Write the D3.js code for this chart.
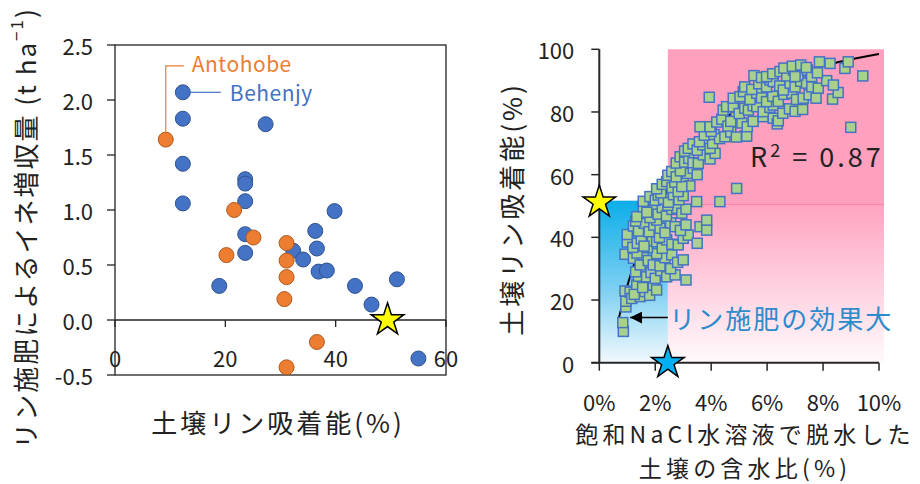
<!DOCTYPE html>
<html>
<head>
<meta charset="utf-8">
<script src="https://cdn.jsdelivr.net/npm/d3@7"></script>
<style>
  body { margin: 0; background: #fff; }
  svg { display: block; }
  text { font-family: "Noto Sans CJK JP", "Noto Sans", sans-serif; fill: #222; }
</style>
</head>
<body>
<svg id="chart" width="920" height="484"></svg>
<script>
// ---- Left panel: rice yield gain vs. soil P sorption ----
const behenjy = [
  [12.3, 2.07], [12.3, 1.83], [27.3, 1.78], [12.3, 1.42], [12.3, 1.06],
  [23.6, 1.28], [23.6, 1.24], [23.6, 1.08], [39.8, 0.99], [36.3, 0.81],
  [23.6, 0.78], [23.6, 0.61], [32.3, 0.63], [34.1, 0.55], [36.6, 0.65],
  [36.9, 0.44], [38.4, 0.45], [18.9, 0.31], [43.5, 0.31], [51.1, 0.37],
  [46.5, 0.14], [55.0, -0.35]
];
const antohobe = [
  [9.2, 1.64], [21.6, 1.00], [25.1, 0.75], [31.1, 0.70], [20.2, 0.59],
  [31.1, 0.54], [31.1, 0.39], [30.7, 0.19], [36.6, -0.20], [31.1, -0.43]
];
const leftStar = [[49.4, 0]];
const leftXTicks = [0, 20, 40, 60];
const leftYTicks = [-0.5, 0, 0.5, 1.0, 1.5, 2.0, 2.5];

// ---- Right panel: P sorption vs. water content after NaCl dehydration ----
const squares = [
  [0.86, 10.0], [0.84, 12.8], [0.95, 17.8], [0.95, 19.6],
  [0.92, 22.9], [1.10, 22.5], [1.16, 20.5], [1.34, 24.8], [1.46, 21.1], [1.63, 22.7],
  [1.80, 21.5], [1.93, 24.8], [2.05, 23.2], [1.25, 21.8], [1.55, 24.0],
  [1.40, 27.6], [1.55, 29.5], [1.69, 27.4], [1.85, 28.8], [2.00, 26.9], [2.20, 29.4],
  [2.41, 27.4], [2.71, 28.0], [3.10, 26.4], [1.30, 29.0], [2.55, 30.0],
  [0.92, 34.6], [1.22, 33.3], [1.46, 31.2], [1.57, 34.4], [1.75, 32.6], [1.93, 31.2],
  [2.17, 30.9], [2.35, 33.5], [2.59, 34.4], [2.80, 32.0], [3.00, 32.8], [1.35, 35.0], [2.05, 34.8],
  [1.00, 38.5], [1.20, 36.8], [1.36, 38.1], [1.50, 39.5], [1.72, 36.7], [1.90, 38.9],
  [2.05, 38.6], [2.25, 36.5], [2.41, 39.2], [2.60, 37.8], [2.82, 37.6], [3.00, 39.7],
  [3.18, 40.7], [3.50, 38.1], [1.60, 37.2], [2.15, 40.0],
  [1.00, 40.9], [1.22, 43.6], [1.40, 42.0], [1.60, 44.5], [1.78, 41.8], [1.95, 43.9],
  [2.17, 42.9], [2.35, 41.5], [2.55, 44.6], [2.71, 43.4], [2.90, 42.2], [3.10, 44.0],
  [3.60, 43.4], [3.84, 42.3], [3.84, 45.5], [1.30, 45.2], [2.05, 45.5],
  [1.34, 46.6], [1.57, 49.8], [1.81, 46.3], [1.95, 48.6], [2.10, 47.4], [2.25, 49.5],
  [2.40, 46.8], [2.60, 48.9], [2.77, 49.3], [2.95, 47.7], [3.10, 49.0], [1.70, 48.0], [2.45, 50.2],
  [1.57, 51.5], [1.81, 53.0], [2.00, 51.8], [2.11, 53.5], [2.30, 52.2], [2.47, 51.2],
  [2.65, 53.6], [2.85, 52.0], [3.00, 53.3], [3.48, 51.4], [4.31, 51.4], [2.20, 54.2],
  [2.05, 55.5], [2.25, 56.9], [2.41, 57.8], [2.60, 55.9], [2.82, 54.6], [3.00, 58.8],
  [3.24, 56.4], [4.91, 55.6], [2.70, 57.6], [2.95, 56.2],
  [2.45, 59.8], [2.59, 61.0], [2.75, 59.3], [3.00, 62.5], [3.15, 60.4], [3.36, 62.0],
  [3.50, 60.0], [2.90, 61.2],
  [2.75, 63.7], [2.89, 65.7], [3.05, 64.0], [3.20, 65.2], [3.35, 63.8], [3.54, 63.6],
  [3.72, 66.3], [3.96, 65.0], [4.14, 66.8],
  [3.05, 67.5], [3.18, 68.4], [3.35, 69.8], [3.50, 67.8], [3.70, 69.5], [3.90, 71.1],
  [3.96, 68.4], [4.05, 70.0], [3.58, 70.5],
  [3.75, 72.6], [4.10, 72.8], [4.30, 71.5], [4.49, 72.1], [4.70, 73.6], [5.21, 72.3],
  [5.27, 72.3], [4.00, 73.8], [4.90, 72.0],
  [3.60, 75.3], [3.96, 75.3], [4.20, 76.8], [4.38, 77.7], [4.60, 75.5], [4.89, 78.3],
  [5.10, 76.5], [5.29, 75.3], [5.50, 77.0], [5.86, 78.5], [6.22, 78.0], [6.36, 76.2],
  [6.40, 77.2], [8.99, 75.1], [4.70, 77.0],
  [4.43, 80.6], [4.55, 81.7], [4.79, 81.7], [5.00, 79.5], [5.20, 81.2], [5.33, 80.6],
  [5.50, 82.0], [5.63, 81.7], [5.86, 80.1], [6.10, 81.5], [6.22, 82.2], [6.56, 79.6],
  [6.80, 81.0], [7.00, 80.2], [7.27, 80.8],
  [3.93, 84.7], [4.79, 84.4], [5.03, 84.9], [5.15, 86.5], [5.39, 84.0], [5.63, 86.0],
  [5.80, 84.5], [5.98, 83.3], [6.20, 85.0], [6.40, 83.4], [6.60, 85.6], [6.88, 86.0],
  [7.05, 84.0], [7.29, 84.4], [7.50, 85.5], [7.75, 84.4], [8.34, 84.1], [8.54, 86.2],
  [5.20, 88.0], [5.45, 87.2], [5.70, 89.0], [5.98, 88.0], [6.10, 90.2], [6.22, 89.7],
  [6.45, 88.3], [6.58, 87.0], [6.82, 89.2], [7.00, 88.0], [7.20, 89.8], [7.41, 89.2],
  [7.60, 88.0], [7.83, 87.6], [8.13, 90.0], [8.37, 88.6],
  [5.53, 91.6], [5.80, 91.0], [5.98, 91.3], [6.20, 92.2], [6.46, 92.9], [6.70, 91.5],
  [6.94, 93.4], [7.10, 91.8], [7.44, 93.4], [7.59, 91.3], [7.80, 92.5], [8.78, 93.9],
  [9.42, 91.5], [7.00, 91.3],
  [6.60, 94.0], [6.90, 94.6], [7.20, 95.0], [7.40, 94.2], [7.87, 96.0], [8.25, 95.5], [8.90, 96.0]
];
const trendLine = [
  [0.68, 13.6], [0.85, 19.5], [1.0, 24.5], [1.34, 33.8], [1.7, 42.0], [2.0, 47.8],
  [2.5, 56.0], [3.0, 63.2], [3.42, 68.4], [3.9, 73.5], [4.6, 78.6], [5.5, 84.5],
  [6.5, 89.5], [7.6, 93.6], [8.6, 96.0], [10.0, 98.5]
];
const rightStars = [[0, 51.2, "#FFFF00"], [2.45, 0, "#00B0F0"]];
const zoneX = [0, 2.45, 10.18];      // boundaries of the shaded zones (% water)
const zoneY = [0, 50.5, 51.7, 100];  // boundaries of the shaded zones (% sorption)
const rightXTicks = [0, 2, 4, 6, 8, 10];
const rightYTicks = [0, 20, 40, 60, 80, 100];
const rightXTitle = ["飽和NaCl水溶液で脱水した", "土壌の含水比(%)"];

const svg = d3.select("#chart");
const ink = "#222";

// ================= Left panel =================
const xL = d3.scaleLinear().domain([0, 60]).range([115, 446]);
const yL = d3.scaleLinear().domain([-0.5, 2.5]).range([375, 45]);
const gL = svg.append("g");

// frame
gL.append("rect").attr("x", xL(0)).attr("y", yL(2.5))
  .attr("width", xL(60) - xL(0)).attr("height", yL(-0.5) - yL(2.5))
  .attr("fill", "none").attr("stroke", ink).attr("stroke-width", 1.3);
// zero line
gL.append("line").attr("x1", xL(0)).attr("x2", xL(60)).attr("y1", yL(0)).attr("y2", yL(0))
  .attr("stroke", ink).attr("stroke-width", 1.3);
// y ticks + labels
gL.selectAll(".yt").data(leftYTicks).join("line")
  .attr("x1", xL(0) - 8).attr("x2", xL(0)).attr("y1", d => yL(d)).attr("y2", d => yL(d))
  .attr("stroke", ink).attr("stroke-width", 1.3);
gL.selectAll(".yl").data(leftYTicks).join("text")
  .attr("x", xL(0) - 22).attr("y", d => yL(d)).attr("text-anchor", "end")
  .attr("dominant-baseline", "central").style("font-size", "22px")
  .text(d => d3.format(".1f")(d).replace("−", "-"));
// x ticks on zero line + labels
gL.selectAll(".xt").data(leftXTicks).join("line")
  .attr("x1", d => xL(d)).attr("x2", d => xL(d)).attr("y1", yL(0)).attr("y2", yL(0) + 7)
  .attr("stroke", ink).attr("stroke-width", 1.3);
gL.selectAll(".xl").data(leftXTicks).join("text")
  .attr("x", d => xL(d)).attr("y", yL(0) + 37).attr("text-anchor", "middle")
  .attr("dominant-baseline", "central").style("font-size", "22px").text(d => d);

// Behenjy then Antohobe on top
gL.selectAll(".b").data(behenjy).join("circle")
  .attr("cx", d => xL(d[0])).attr("cy", d => yL(d[1])).attr("r", 7.5)
  .attr("fill", "#4472C4").attr("stroke", "#2F528F").attr("stroke-width", 1);
gL.selectAll(".a").data(antohobe).join("circle")
  .attr("cx", d => xL(d[0])).attr("cy", d => yL(d[1])).attr("r", 7.5)
  .attr("fill", "#ED7D31").attr("stroke", "#AE5A21").attr("stroke-width", 1);

// star at zero gain
const star = d3.symbol().type(d3.symbolStar);
gL.selectAll(".s").data(leftStar).join("path")
  .attr("transform", d => `translate(${xL(d[0])},${yL(d[1])})`)
  .attr("d", star.size(330)()).attr("fill", "#FFFF00").attr("stroke", "#000").attr("stroke-width", 1.5);

// site labels with leader lines
const aPt = antohobe[0], bPt = behenjy[0];
gL.append("path")
  .attr("d", `M${xL(aPt[0])},${yL(aPt[1]) - 8}V${yL(2.31)}H${xL(aPt[0]) + 18}`)
  .attr("fill", "none").attr("stroke", "#ED7D31").attr("stroke-width", 1.2);
gL.append("text").attr("x", xL(aPt[0]) + 26).attr("y", yL(2.31) - 3)
  .attr("dominant-baseline", "central").style("font-size", "21px").style("fill", "#ED7D31")
  .style("letter-spacing", "0.5px").text("Antohobe");
gL.append("line").attr("x1", xL(bPt[0]) + 8).attr("x2", xL(bPt[0]) + 38)
  .attr("y1", yL(bPt[1])).attr("y2", yL(bPt[1]))
  .attr("stroke", "#4472C4").attr("stroke-width", 1.2);
gL.append("text").attr("x", xL(bPt[0]) + 47).attr("y", yL(bPt[1]))
  .attr("dominant-baseline", "central").style("font-size", "21px").style("fill", "#4472C4")
  .style("letter-spacing", "0.5px").text("Behenjy");

// axis titles
gL.append("text").attr("x", 278).attr("y", 421).attr("text-anchor", "middle")
  .attr("dominant-baseline", "central").style("font-size", "26px").style("letter-spacing", "3px")
  .text("土壌リン吸着能(%)");
const yt = gL.append("text").attr("transform", "translate(24,228) rotate(-90)")
  .attr("text-anchor", "middle").attr("dominant-baseline", "central")
  .style("font-size", "26px").style("letter-spacing", "2px");
yt.append("tspan").text("リン施肥によるイネ増収量 (t ha");
yt.append("tspan").attr("dy", -9).style("font-size", "17px").text("−1");
yt.append("tspan").attr("dy", 9).text(")");

// ================= Right panel =================
const xR = d3.scaleLinear().domain([0, 10]).range([599.3, 879]);
const yR = d3.scaleLinear().domain([0, 100]).range([362.7, 49.3]);
const gR = svg.append("g");
const defs = svg.append("defs");

const gBlue = defs.append("linearGradient").attr("id", "gBlue").attr("x1", 0).attr("y1", 0).attr("x2", 0).attr("y2", 1);
gBlue.append("stop").attr("offset", "0%").attr("stop-color", "#0DAEE9");
gBlue.append("stop").attr("offset", "55%").attr("stop-color", "#7ED0F2");
gBlue.append("stop").attr("offset", "100%").attr("stop-color", "#F3F9FD");
const gPink = defs.append("linearGradient").attr("id", "gPink").attr("x1", 0).attr("y1", 0).attr("x2", 0).attr("y2", 1);
gPink.append("stop").attr("offset", "0%").attr("stop-color", "#FFA4C1");
gPink.append("stop").attr("offset", "100%").attr("stop-color", "#FFFAFC");

// shaded zones
gR.append("rect").attr("x", xR(zoneX[1])).attr("y", yR(zoneY[3]))
  .attr("width", xR(zoneX[2]) - xR(zoneX[1])).attr("height", yR(zoneY[1]) - yR(zoneY[3]))
  .attr("fill", "#FFA0BE");
gR.append("rect").attr("x", xR(zoneX[1])).attr("y", yR(zoneY[1]))
  .attr("width", xR(zoneX[2]) - xR(zoneX[1])).attr("height", yR(zoneY[0]) - yR(zoneY[1]))
  .attr("fill", "url(#gPink)");
gR.append("line").attr("x1", xR(zoneX[1])).attr("x2", xR(zoneX[2]))
  .attr("y1", yR(zoneY[1])).attr("y2", yR(zoneY[1]))
  .attr("stroke", "#FF7FA8").attr("stroke-width", 1);
gR.append("rect").attr("x", xR(zoneX[0])).attr("y", yR(zoneY[2]))
  .attr("width", xR(zoneX[1]) - xR(zoneX[0])).attr("height", yR(zoneY[0]) - yR(zoneY[2]))
  .attr("fill", "url(#gBlue)");

// trend curve beneath the points
gR.append("path").datum(trendLine)
  .attr("d", d3.line().x(d => xR(d[0])).y(d => yR(d[1])).curve(d3.curveMonotoneX))
  .attr("fill", "none").attr("stroke", "#000").attr("stroke-width", 2);

// samples
gR.selectAll(".sq").data(squares).join("rect")
  .attr("x", d => xR(d[0]) - 5).attr("y", d => yR(d[1]) - 5)
  .attr("width", 10).attr("height", 10)
  .attr("fill", "#A9D18E").attr("stroke", "#4472C4").attr("stroke-width", 1.5);

// axes
gR.append("line").attr("x1", xR(0)).attr("x2", xR(0)).attr("y1", yR(100)).attr("y2", yR(0))
  .attr("stroke", "#262626").attr("stroke-width", 2);
gR.append("line").attr("x1", xR(0) - 8).attr("x2", xR(10)).attr("y1", yR(0)).attr("y2", yR(0))
  .attr("stroke", "#262626").attr("stroke-width", 2);
gR.selectAll(".ryt").data(rightYTicks).join("line")
  .attr("x1", xR(0) - 8).attr("x2", xR(0)).attr("y1", d => yR(d)).attr("y2", d => yR(d))
  .attr("stroke", "#262626").attr("stroke-width", 1.5);
gR.selectAll(".rxt").data(rightXTicks).join("line")
  .attr("x1", d => xR(d)).attr("x2", d => xR(d)).attr("y1", yR(0)).attr("y2", yR(0) + 8)
  .attr("stroke", "#262626").attr("stroke-width", 1.5);
gR.selectAll(".ryl").data(rightYTicks).join("text")
  .attr("x", xR(0) - 25).attr("y", d => yR(d)).attr("text-anchor", "end")
  .attr("dominant-baseline", "central").style("font-size", "22px").text(d => d);
gR.selectAll(".rxl").data(rightXTicks).join("text")
  .attr("x", d => xR(d)).attr("y", yR(0) + 38).attr("text-anchor", "middle")
  .attr("dominant-baseline", "central").style("font-size", "22px").text(d => d + "%");

// stars marking the thresholds
gR.selectAll(".rs").data(rightStars).join("path")
  .attr("transform", d => `translate(${xR(d[0])},${yR(d[1])})`)
  .attr("d", star.size(330)()).attr("fill", d => d[2]).attr("stroke", "#000").attr("stroke-width", 1.5);

// R² label
const r2 = gR.append("text").attr("x", 750).attr("y", 167).style("font-size", "27px")
  .style("letter-spacing", "3px");
r2.append("tspan").text("R");
r2.append("tspan").attr("dy", -10).style("font-size", "18px").text("2");
r2.append("tspan").attr("dy", 10).text(" = 0.87");

// annotation arrow
defs.append("marker").attr("id", "arr").attr("viewBox", "0 0 10 10").attr("refX", 10).attr("refY", 5)
  .attr("markerWidth", 12).attr("markerHeight", 12).attr("markerUnits", "userSpaceOnUse").attr("orient", "auto")
  .append("path").attr("d", "M0,0L10,5L0,10Z").attr("fill", "#000");
gR.append("line").attr("x1", xR(2.45)).attr("x2", xR(1.1)).attr("y1", yR(14.4)).attr("y2", yR(14.4))
  .attr("stroke", "#000").attr("stroke-width", 1.5).attr("marker-end", "url(#arr)");
gR.append("text").attr("x", xR(2.5)).attr("y", yR(14.4)).attr("dominant-baseline", "central")
  .style("font-size", "26px").style("fill", "#2E8BCB").style("letter-spacing", "2px")
  .text("リン施肥の効果大");

// axis titles
gR.append("text").attr("transform", "translate(510,209) rotate(-90)")
  .attr("text-anchor", "middle").attr("dominant-baseline", "central")
  .style("font-size", "26px").style("letter-spacing", "3px").text("土壌リン吸着能(%)");
gR.append("text").attr("text-anchor", "middle").attr("dominant-baseline", "central")
  .style("font-size", "23px").style("letter-spacing", "4.2px")
  .selectAll("tspan").data(rightXTitle).join("tspan")
  .attr("x", 745).attr("y", (d, i) => 433 + i * 34).text(d => d);
</script>
</body>
</html>
